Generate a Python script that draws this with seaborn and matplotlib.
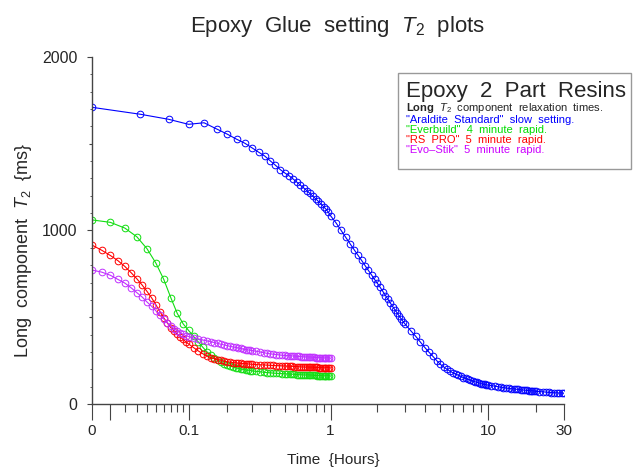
import numpy as np
import pandas as pd
import matplotlib
matplotlib.use("Agg")
import matplotlib.pyplot as plt
from matplotlib.patches import Rectangle
import seaborn as sns

# ---------------- data ----------------
araldite_t = [0, 0.0333, 0.0667, 0.1, 0.1333, 0.1667, 0.2, 0.2333, 0.2667, 0.3,
              0.3333, 0.3667, 0.4, 0.4333, 0.4667, 0.5, 0.5333, 0.5667, 0.6, 0.6333,
              0.6667, 0.7, 0.7333, 0.7667, 0.8, 0.8333, 0.8667, 0.9, 0.9333, 0.9667, 1.0,
              1.083, 1.167, 1.25, 1.333, 1.417, 1.5, 1.583, 1.667, 1.75, 1.833, 1.917, 2.0,
              2.083, 2.167, 2.25, 2.333, 2.417, 2.5, 2.583, 2.667, 2.75, 2.833, 2.917, 3.0,
              3.25, 3.5, 3.75, 4.0, 4.25, 4.5, 4.75, 5.0, 5.25, 5.5, 5.75, 6.0, 6.25, 6.5,
              6.75, 7.0, 7.25, 7.5, 7.75, 8.0, 8.25, 8.5, 8.75, 9.0, 9.25, 9.5, 9.75, 10.0,
              10.5, 11, 11.5, 12, 12.5, 13, 13.5, 14, 14.5, 15, 15.5, 16, 16.5, 17, 17.5,
              18, 18.5, 19, 19.5, 20, 21, 22, 23, 24, 25, 26, 27, 28, 29, 30]
araldite_v = [1710, 1670, 1641, 1612, 1621, 1585, 1555, 1526, 1503, 1476,
              1451, 1429, 1401, 1376, 1351, 1332, 1316, 1298, 1280, 1262,
              1246, 1230, 1214, 1198, 1183, 1168, 1153, 1138, 1123, 1106, 1085,
              1045, 1002, 962, 925, 890, 858, 828, 798, 770, 744, 718, 695,
              672, 648, 625, 603, 582, 561, 543, 525, 507, 490, 474, 460,
              423, 390, 356, 325, 298, 274, 250, 229, 214, 201, 190, 180, 173, 166,
              159, 152, 147, 142, 138, 133, 129, 125, 121, 118, 115, 113, 111, 109,
              106, 103, 100, 97, 95, 92, 90, 88, 87, 85, 84, 82, 81, 80, 79,
              77, 76, 75, 74, 73, 72, 70, 69, 67, 66, 65, 64, 63, 63, 62]

everbuild_t = [0.00, 0.01, 0.02, 0.03, 0.04, 0.05, 0.06, 0.07, 0.08, 0.09, 0.10,
               0.11, 0.12, 0.13, 0.14, 0.15, 0.16, 0.17, 0.18, 0.19, 0.20,
               0.21, 0.22, 0.23, 0.24, 0.25, 0.26, 0.27, 0.28, 0.29, 0.30,
               0.32, 0.34, 0.36, 0.38, 0.40, 0.42, 0.44, 0.46, 0.48, 0.50,
               0.52, 0.54, 0.56, 0.58, 0.60, 0.62, 0.64, 0.66, 0.68, 0.70,
               0.72, 0.74, 0.76, 0.78, 0.80, 0.82, 0.84, 0.86, 0.88, 0.90,
               0.92, 0.94, 0.96, 0.98, 1.00]
everbuild_v = [1061, 1047, 1014, 964, 895, 812, 718, 612, 522, 462, 424,
               390, 358, 328, 302, 281, 264, 251, 240, 231, 224,
               218, 213, 209, 205, 202, 199, 197, 195, 193, 191,
               188, 186, 183, 181, 180, 178, 177, 176, 175, 174,
               173, 172, 172, 171, 170, 169, 169, 168, 168, 167,
               167, 166, 166, 165, 165, 164, 164, 164, 163, 163,
               163, 162, 162, 162, 161]

rapid_t = [0.000, 0.005, 0.010, 0.015, 0.020, 0.025, 0.030, 0.035, 0.040, 0.045,
           0.050, 0.055, 0.060, 0.065, 0.070, 0.075, 0.080, 0.085, 0.090, 0.095, 0.100,
           0.11, 0.12, 0.13, 0.14, 0.15, 0.16, 0.17, 0.18, 0.19, 0.20,
           0.21, 0.22, 0.23, 0.24, 0.25, 0.26, 0.27, 0.28, 0.29, 0.30,
           0.32, 0.34, 0.36, 0.38, 0.40, 0.42, 0.44, 0.46, 0.48, 0.50,
           0.52, 0.54, 0.56, 0.58, 0.60, 0.62, 0.64, 0.66, 0.68, 0.70,
           0.72, 0.74, 0.76, 0.78, 0.80, 0.82, 0.84, 0.86, 0.88, 0.90,
           0.92, 0.94, 0.96, 0.98, 1.00]
rspro_v = [916, 886, 856, 826, 793, 757, 722, 686, 649, 612,
           572, 532, 497, 466, 440, 420, 403, 387, 372, 358, 346,
           325, 306, 290, 277, 268, 261, 256, 251, 247, 244,
           241, 239, 237, 235, 234, 233, 232, 231, 230, 229,
           227, 226, 225, 224, 223, 222, 221, 221, 220, 219,
           218, 218, 217, 216, 215, 215, 214, 214, 213, 213,
           212, 212, 212, 211, 211, 211, 210, 210, 210, 209,
           209, 209, 209, 208, 208]
evostik_v = [772, 760, 742, 718, 697, 670, 642, 617, 588, 563,
             537, 512, 490, 468, 450, 433, 421, 411, 402, 394, 389,
             380, 374, 369, 364, 359, 354, 349, 344, 340, 336,
             332, 329, 326, 323, 320, 317, 314, 312, 310, 308,
             304, 300, 296, 292, 289, 287, 285, 283, 281, 280,
             279, 278, 277, 276, 275, 274, 273, 272, 272, 271,
             270, 270, 269, 269, 268, 268, 267, 267, 266, 266,
             266, 265, 265, 265, 264]

x_major = [0, 0.01, 0.1, 1, 10, 30]
x_major_labels = ["0", "", "0.1", "1", "10", "30"]
x_minor = [0.02, 0.03, 0.04, 0.05, 0.06, 0.07, 0.08, 0.09,
           0.2, 0.3, 0.4, 0.5, 0.6, 0.7, 0.8, 0.9,
           2, 3, 4, 5, 6, 7, 8, 9, 20]
y_major = [0, 500, 1000, 1500, 2000]
y_major_labels = ["0", "", "1000", "", "2000"]
y_minor = [100, 200, 300, 400, 600, 700, 800, 900, 1100, 1200, 1300, 1400,
           1600, 1700, 1800, 1900]

legend_lines = ['"Araldite  Standard"  slow  setting.',
                '"Everbuild"  4  minute  rapid.',
                '"RS  PRO"  5  minute  rapid.',
                '"Evo\u2013Stik"  5  minute  rapid.']
colors = ["#0000ff", "#11dd11", "#ff0000", "#c030ff"]
text_colors = ["#0000ff", "#00dd00", "#ff0000", "#cc00ff"]

# ---------------- style ----------------
sns.set_theme(style="white")
plt.rcParams["font.family"] = ["Liberation Sans", "DejaVu Sans"]
plt.rcParams["mathtext.fontset"] = "custom"
plt.rcParams["mathtext.rm"] = "Liberation Sans"
plt.rcParams["mathtext.it"] = "Liberation Sans:italic"
plt.rcParams["mathtext.bf"] = "Liberation Sans:bold"

W, H = 633, 468
fig = plt.figure(figsize=(W / 100, H / 100), dpi=100)
fig.patch.set_facecolor("white")
L, R, T, B = 92, 564, 57, 404
ax = fig.add_axes([L / W, 1 - B / H, (R - L) / W, (B - T) / H])
ax.set_facecolor("white")

series = [
    (araldite_t, araldite_v, colors[0]),
    (everbuild_t, everbuild_v, colors[1]),
    (rapid_t, rspro_v, colors[2]),
    (rapid_t, evostik_v, colors[3]),
]
for t, v, c in series:
    df = pd.DataFrame({"t": t, "v": v})
    sns.lineplot(data=df, x="t", y="v", ax=ax, color=c, lw=0.8, sort=False,
                 estimator=None, marker="o", markersize=4.8,
                 markerfacecolor="none", markeredgecolor=c, markeredgewidth=0.7)

OFF = 0.033
ax.set_xscale("function", functions=(lambda x: np.log10(np.asarray(x) + OFF),
                                     lambda y: 10 ** np.asarray(y) - OFF))
ax.set_xlim(0, 30)
ax.set_ylim(0, 2000)
ax.set_xticks(x_major, x_major_labels)
ax.set_xticks(x_minor, minor=True)
ax.set_yticks(y_major, y_major_labels)
ax.set_yticks(y_minor, minor=True)
ax.set_xlabel("")
ax.set_ylabel("")

for s in ["top", "right"]:
    ax.spines[s].set_visible(False)
for s in ["left", "bottom"]:
    ax.spines[s].set_color("#444444")
    ax.spines[s].set_linewidth(1.0)

ax.tick_params(axis="x", which="major", direction="out", length=11.5, width=0.8,
               color="#444444", labelsize=11, pad=3, bottom=True)
ax.tick_params(axis="x", which="minor", direction="out", length=5.8, width=0.8,
               color="#444444", bottom=True)
ax.tick_params(axis="y", which="major", direction="out", length=3.6, width=0.8,
               color="#444444", labelsize=11.5, pad=7, left=True)
ax.tick_params(axis="y", which="minor", direction="out", length=1.4, width=0.6,
               color="#444444", left=True)
for tk, lab in zip(ax.yaxis.get_major_ticks(), y_major_labels):
    if lab == "":
        tk.tick1line.set_markersize(2.2)

def fx(x):
    return x / W

def fy(y):
    return 1 - y / H

fig.text(fx(337), fy(32), "Epoxy  Glue  setting  $T_2$  plots", ha="center",
         va="baseline", fontsize=16)
fig.text(fx(24), fy(250), "Long  component  $T_2$  {ms}", rotation=90, ha="center",
         va="center", fontsize=13)
fig.text(fx(333), fy(460), "Time  {Hours}", ha="center", va="center", fontsize=11)

fig.add_artist(Rectangle((fx(398), fy(169)), (631 - 398) / W, (169 - 73) / H,
                         transform=fig.transFigure, facecolor="white",
                         edgecolor="#999999", lw=1.0))
fig.text(fx(406), fy(97), "Epoxy  2  Part  Resins", ha="left", va="baseline",
         fontsize=16)
fig.text(fx(406), fy(111), r"$\mathbf{Long}$  $T_2$  component  relaxation  times.",
         ha="left", va="baseline", fontsize=8)
for i, (line, c) in enumerate(zip(legend_lines, text_colors)):
    fig.text(fx(406), fy(123 + 10 * i), line, ha="left", va="baseline",
             fontsize=8, color=c)

fig.savefig("out.png", dpi=100)
